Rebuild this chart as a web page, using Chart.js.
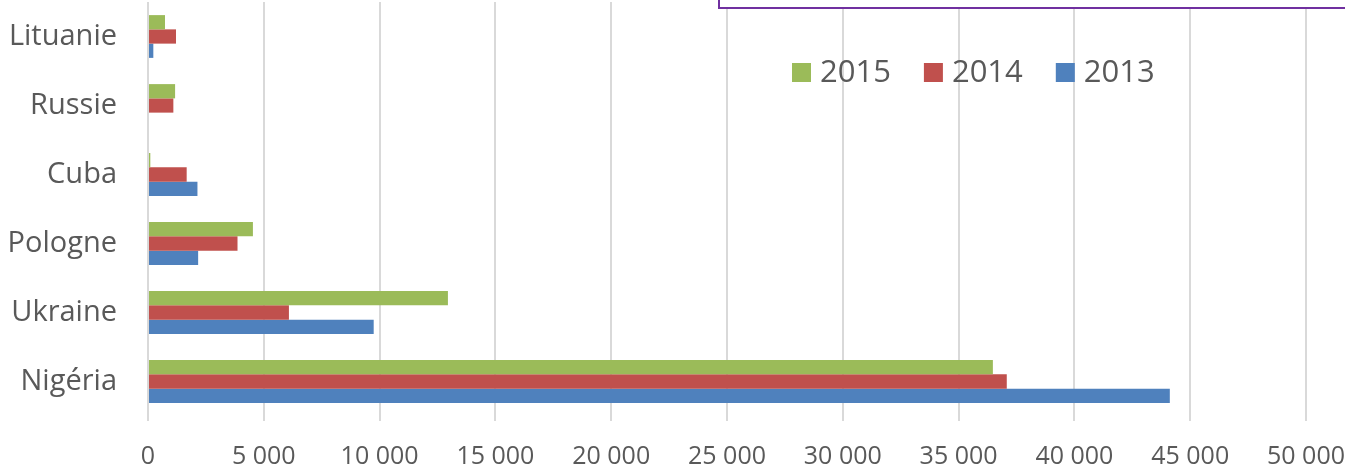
<!DOCTYPE html>
<html>
<head>
<meta charset="utf-8">
<script src="https://cdn.jsdelivr.net/npm/chart.js@4"></script>
<style>
  html, body { margin: 0; padding: 0; background: #fff; }
  #wrap { width: 1345px; height: 469px; }
</style>
</head>
<body>
<div id="wrap"><canvas id="myChart" width="1345" height="469"></canvas></div>
<script>
let countries = ['Lituanie', 'Russie', 'Cuba', 'Pologne', 'Ukraine', 'Nigéria'];
let years = ['2015', '2014', '2013'];
let values2015 = [735, 1170, 100, 4530, 12950, 36480];
let values2014 = [1210, 1095, 1670, 3865, 6085, 37080];
let values2013 = [230, 0, 2135, 2165, 9745, 44120];
let xTicks = [0, 5000, 10000, 15000, 20000, 25000, 30000, 35000, 40000, 45000, 50000];

let colors = ['#9BBB59', '#C0504D', '#4F81BD'];
let seriesValues = [values2015, values2014, values2013];

function fmt(v) {
    return String(v).replace(/\B(?=(\d{3})+(?!\d))/g, ' ');
}

// legend sits inside the plot, in a purple framed box cut by the top edge
let boxLegend = {
    id: 'boxLegend',
    afterDraw(chart) {
        let c = chart.ctx;
        c.save();
        c.fillStyle = '#fff';
        c.fillRect(718, -10, 700, 18);
        c.strokeStyle = '#7030A0';
        c.lineWidth = 2;
        c.strokeRect(719, -10, 700, 18);

        c.font = '31px "Open Sans"';
        c.textBaseline = 'middle';
        let x = 792;
        let y = 72;
        chart.data.datasets.forEach(ds => {
            c.fillStyle = ds.backgroundColor;
            c.fillRect(x, y - 9, 19, 19);
            x += 28;
            c.fillStyle = '#595959';
            c.fillText(ds.label, x, y + 1);
            x += c.measureText(ds.label).width + 33;
        });
        c.restore();
    }
};

function noPad(scale) {
    scale.paddingTop = 0;
    scale.paddingBottom = 0;
    scale.paddingLeft = 0;
    scale.paddingRight = 0;
}

let ctx = document.getElementById('myChart').getContext('2d');
let myChart = new Chart(ctx, {
    type: 'bar',
    data: {
        labels: countries,
        datasets: years.map((y, i) => ({
            label: y,
            data: seriesValues[i],
            backgroundColor: colors[i],
            borderWidth: 0,
            categoryPercentage: 0.62,
            barPercentage: 1
        }))
    },
    options: {
        indexAxis: 'y',
        responsive: false,
        animation: false,
        layout: { padding: { top: 2, right: 39, left: 0, bottom: 0 } },
        plugins: {
            legend: { display: false },
            tooltip: { enabled: false }
        },
        scales: {
            x: {
                min: 0,
                max: 50000,
                afterBuildTicks(scale) {
                    scale.ticks = xTicks.map(v => ({ value: v }));
                },
                afterFit(scale) { scale.height = 53; noPad(scale); },
                border: { display: false },
                grid: { color: '#d9d9d9', lineWidth: 2, tickLength: 5, drawTicks: true },
                ticks: {
                    padding: 21,
                    color: '#595959',
                    font: { family: 'Open Sans', size: 25 },
                    maxRotation: 0,
                    callback: v => fmt(v)
                }
            },
            y: {
                afterFit(scale) { scale.width = 148; noPad(scale); },
                border: { display: false },
                grid: { display: false, drawTicks: false },
                ticks: {
                    padding: 31,
                    color: '#595959',
                    font: { family: 'Open Sans', size: 29 }
                }
            }
        }
    },
    plugins: [boxLegend]
});
</script>
</body>
</html>
